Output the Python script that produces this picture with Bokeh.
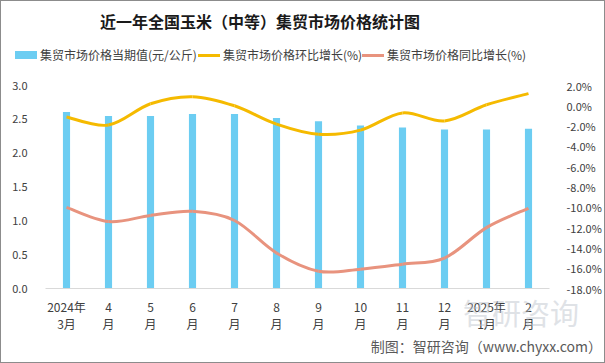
from bokeh.plotting import figure
from bokeh.models import (Range1d, LinearAxis, FixedTicker, PrintfTickFormatter,
                          ColumnDataSource, Div)
from bokeh.layouts import column
from bokeh.embed import file_html
from bokeh.resources import INLINE

# ---- data ----
title_text = "近一年全国玉米（中等）集贸市场价格统计图"
legend_labels = ["集贸市场价格当期值(元/公斤)", "集贸市场价格环比增长(%)", "集贸市场价格同比增长(%)"]
credit_text = "制图：智研咨询（www.chyxx.com）"
months = ["2024年\n3月", "4\n月", "5\n月", "6\n月", "7\n月", "8\n月", "9\n月",
          "10\n月", "11\n月", "12\n月", "2025年\n1月", "2\n月"]
price = [2.61, 2.55, 2.55, 2.58, 2.58, 2.52, 2.47, 2.41, 2.38, 2.35, 2.35, 2.36]
mom = [-1.1, -1.9, 0.2, 0.9, 0.0, -1.8, -2.8, -2.4, -0.7, -1.5, 0.1, 1.2]
yoy = [-10.0, -11.4, -10.8, -10.4, -11.3, -14.5, -16.3, -16.1, -15.6, -15.0, -12.0, -10.1]
left_ticks = [0, 0.5, 1.0, 1.5, 2.0, 2.5, 3.0]
right_ticks = [-18, -16, -14, -12, -10, -8, -6, -4, -2, 0, 2]

FONT = "Noto Sans CJK SC"
TXT = "#404040"
C_BAR = "#6CCDF2"
C_MOM = "#F5BA00"
C_YOY = "#E8937E"

xs = list(range(1, len(months) + 1))

p = figure(width=603, height=263, output_backend="svg", toolbar_location=None,
           x_range=Range1d(0.5, len(months) + 0.5), y_range=Range1d(0, 3.0),
           min_border_left=44, min_border_right=55, min_border_top=8,
           min_border_bottom=52)
p.outline_line_color = None
p.xgrid.visible = False
p.ygrid.visible = False
p.background_fill_color = "white"
p.border_fill_color = "white"

p.extra_y_ranges = {"pct": Range1d(-18, 2)}

# axes
xa = p.xaxis[0]
xa.ticker = FixedTicker(ticks=xs)
xa.major_label_overrides = {x: m for x, m in zip(xs, months)}
xa.axis_line_color = "#D9D9D9"
xa.major_tick_line_color = None
xa.minor_tick_line_color = None
xa.major_label_text_font = FONT
xa.major_label_text_font_size = "12px"
xa.major_label_text_color = TXT
xa.major_label_text_line_height = 1.04
xa.major_label_standoff = 3

ya = p.yaxis[0]
ya.ticker = FixedTicker(ticks=left_ticks)
ya.formatter = PrintfTickFormatter(format="%.1f")
ya.axis_line_color = None
ya.major_tick_line_color = None
ya.minor_tick_line_color = None
ya.major_label_text_font = FONT
ya.major_label_text_font_size = "11px"
ya.major_label_text_color = TXT
ya.major_label_standoff = 12

ra = LinearAxis(y_range_name="pct", ticker=FixedTicker(ticks=right_ticks),
                formatter=PrintfTickFormatter(format="%.1f%%"))
ra.axis_line_color = None
ra.major_tick_line_color = None
ra.minor_tick_line_color = None
ra.major_label_text_font = FONT
ra.major_label_text_font_size = "11px"
ra.major_label_text_color = TXT
ra.major_label_standoff = 11
p.add_layout(ra, "right")

# bars
p.vbar(x=xs, top=price, width=0.17, fill_color=C_BAR, line_color=None)


def smooth(xv, yv):
    n = len(xv)
    d = dict(x0=[], y0=[], x1=[], y1=[], cx0=[], cy0=[], cx1=[], cy1=[])
    for i in range(n - 1):
        a = i - 1 if i > 0 else i
        b = i + 2 if i + 2 < n else i + 1
        d["x0"].append(xv[i]); d["y0"].append(yv[i])
        d["x1"].append(xv[i + 1]); d["y1"].append(yv[i + 1])
        d["cx0"].append(xv[i] + (xv[i + 1] - xv[a]) / 6)
        d["cy0"].append(yv[i] + (yv[i + 1] - yv[a]) / 6)
        d["cx1"].append(xv[i + 1] - (xv[b] - xv[i]) / 6)
        d["cy1"].append(yv[i + 1] - (yv[b] - yv[i]) / 6)
    return ColumnDataSource(d)


p.bezier(x0="x0", y0="y0", x1="x1", y1="y1", cx0="cx0", cy0="cy0", cx1="cx1",
         cy1="cy1", source=smooth(xs, yoy), line_color=C_YOY, line_width=3,
         y_range_name="pct")
p.bezier(x0="x0", y0="y0", x1="x1", y1="y1", cx0="cx0", cy0="cy0", cx1="cx1",
         cy1="cy1", source=smooth(xs, mom), line_color=C_MOM, line_width=3,
         y_range_name="pct")

# ---- header (title + legend) ----
F = f"font-family:'{FONT}';"
sw = [
    f"width:22px;height:8px;background:{C_BAR};",
    f"width:22px;height:3px;background:{C_MOM};",
    f"width:22px;height:3px;background:{C_YOY};",
]
lefts = [14, 197, 361]
items = ""
for lab, s, lx in zip(legend_labels, sw, lefts):
    items += (f'<div style="position:absolute;left:{lx}px;top:45px;height:18px;'
              f'display:flex;align-items:center;white-space:nowrap;">'
              f'<span style="display:inline-block;{s}margin-right:3px;"></span>'
              f'<span style="{F}font-size:12px;line-height:18px;color:{TXT};">'
              f'{lab}</span></div>')
header_html = (
    f'<div style="position:relative;width:603px;height:76px;">'
    f'<div style="position:absolute;left:99px;top:9px;{F}font-size:16px;'
    f'line-height:23px;font-weight:bold;color:#1a1a1a;white-space:nowrap;">'
    f'{title_text}</div>{items}</div>')
header = Div(text=header_html, width=603, height=76, margin=0)

footer_html = (
    f'<div style="position:relative;width:603px;height:22px;">'
    f'<div style="position:absolute;left:462px;top:-49px;{F}font-size:29px;'
    f'line-height:42px;color:#B9C0CA;opacity:0.45;white-space:nowrap;">智研咨询</div>'
    f'<div style="position:absolute;right:2px;top:-3px;{F}font-size:14px;'
    f'line-height:19px;color:#595959;white-space:nowrap;">{credit_text}</div></div>')
footer = Div(text=footer_html, width=603, height=22, margin=0)

layout = column(header, p, footer, spacing=0,
                styles={"border": "1px solid #8C8C8C", "background": "white"})

open("out.html", "w").write(file_html(layout, INLINE))
